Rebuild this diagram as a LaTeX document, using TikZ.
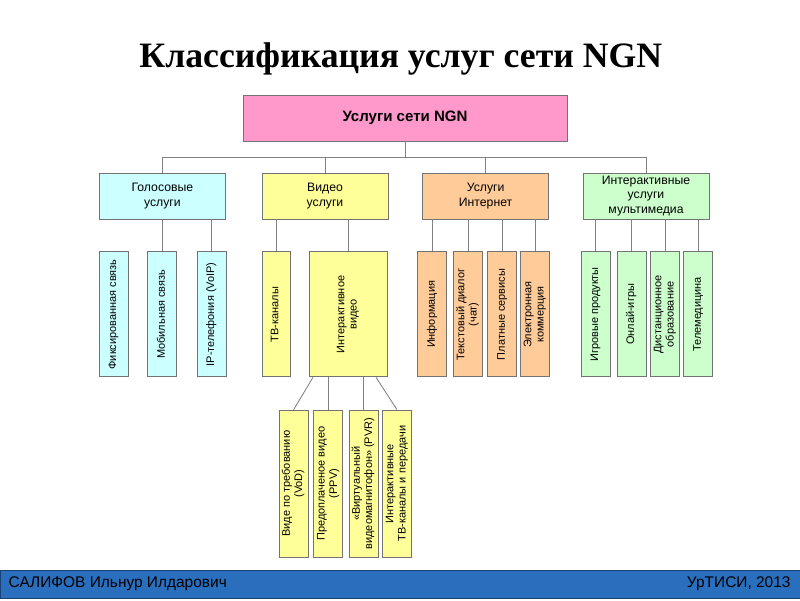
\documentclass[tikz,border=0pt]{standalone}
\usepackage{fontspec}
\setmainfont{Liberation Serif}
\setsansfont{Liberation Sans}
\usetikzlibrary{positioning,calc}

\definecolor{ngnpink}{HTML}{FF99CC}
\definecolor{voicecyan}{HTML}{CCFFFF}
\definecolor{vidyellow}{HTML}{FFFF99}
\definecolor{netorange}{HTML}{FFCC99}
\definecolor{mmgreen}{HTML}{CCFFCC}
\definecolor{footblue}{HTML}{2A6EBE}

\newcommand{\vtxt}[1]{\rotatebox{90}{\renewcommand{\arraystretch}{0.95}\begin{tabular}{@{}c@{}}#1\end{tabular}}}

\begin{document}
\begin{tikzpicture}[
  box/.style={draw=black!55, line width=0.6pt, align=center, inner sep=0pt,
              font=\sffamily\fontsize{7.8}{9.2}\selectfont},
  head/.style={box, minimum width=8.1cm, minimum height=1.15cm,
               font=\sffamily\bfseries\fontsize{10.7}{12}\selectfont},
  grp/.style={box, minimum width=3.15cm, minimum height=1.15cm,
              font=\sffamily\fontsize{8.7}{10.4}\selectfont},
  leaf/.style={box, minimum width=0.725cm, minimum height=3.125cm},
  sub/.style={box, minimum width=0.725cm, minimum height=3.675cm},
  link/.style={draw=black!50, line width=0.6pt}
]
  \useasboundingbox (0,0) rectangle (20,-15);

  % title
  \node[font=\bfseries\fontsize{25.4}{30}\selectfont] (title) at (10.02,-1.47)
      {Классификация услуг сети NGN};

  % top and groups
  \node[head, fill=ngnpink]  (root)   at (10.125,-2.95) {Услуги сети NGN};
  \node[grp, fill=voicecyan] (voice)  at (4.06,-4.9)    {Голосовые\\услуги};
  \node[grp, fill=vidyellow] (video)  at (8.125,-4.9)   {Видео\\услуги};
  \node[grp, fill=netorange] (inet)   at (12.14,-4.9)   {Услуги\\Интернет};
  \node[grp, fill=mmgreen]   (mmedia) at (16.15,-4.9)   {Интерактивные\\услуги\\мультимедиа};

  % voice services
  \node[leaf, fill=voicecyan] (fix) at (2.84,-7.86) {\vtxt{Фиксированная связь}};
  \node[leaf, fill=voicecyan] (mob) at (4.06,-7.86) {\vtxt{Мобильная связь}};
  \node[leaf, fill=voicecyan] (ip)  at (5.29,-7.86) {\vtxt{IP-телефония (VoIP)}};

  % video services
  \node[leaf, fill=vidyellow, minimum width=0.7cm] (tv)   at (6.9,-7.86) {\vtxt{ТВ-каналы}};
  \node[leaf, fill=vidyellow, minimum width=1.95cm] (ivid) at (8.7,-7.86) {\vtxt{Интерактивное\\видео}};

  % internet services
  \node[leaf, fill=netorange] (info) at (10.81,-7.86)  {\vtxt{Информация}};
  \node[leaf, fill=netorange] (chat) at (11.7,-7.86)   {\vtxt{Текстовый диалог\\(чат)}};
  \node[leaf, fill=netorange] (paid) at (12.56,-7.86)  {\vtxt{Платные сервисы}};
  \node[leaf, fill=netorange] (ecom) at (13.375,-7.86) {\vtxt{Электронная\\коммерция}};

  % multimedia services
  \node[leaf, fill=mmgreen] (game)   at (14.89,-7.86)  {\vtxt{Игровые продукты}};
  \node[leaf, fill=mmgreen] (online) at (15.79,-7.86)  {\vtxt{Онлай-игры}};
  \node[leaf, fill=mmgreen] (dist)   at (16.625,-7.86) {\vtxt{Дистанционное\\образование}};
  \node[leaf, fill=mmgreen] (tele)   at (17.46,-7.86)  {\vtxt{Телемедицина}};

  % interactive video
  \node[sub, fill=vidyellow] (vod) at (7.34,-12.09)  {\vtxt{Виде по требованию\\(VoD)}};
  \node[sub, fill=vidyellow] (ppv) at (8.21,-12.09)  {\vtxt{Предоплаченое видео\\(PPV)}};
  \node[sub, fill=vidyellow] (pvr) at (9.09,-12.09)  {\vtxt{«Виртуальный\\видеомагнитофон» (PVR)}};
  \node[sub, fill=vidyellow] (itv) at (9.925,-12.09) {\vtxt{Интерактивные\\ТВ-каналы и передачи}};

  % connectors
  \coordinate (bus) at (0,-3.925);
  \draw[link] (voice.north) |- (mmedia.north |- bus) -- (mmedia.north);
  \foreach \g in {root.south, video.north, inet.north}
    \draw[link] (\g) -- (\g |- bus);

  \foreach \c in {mob, ip}
    \draw[link] (\c.north) -- (\c.north |- voice.south);
  \foreach \c in {tv, ivid}
    \draw[link] (\c.north) -- (\c.north |- video.south);
  \foreach \c in {info, chat, paid, ecom}
    \draw[link] (\c.north) -- (\c.north |- inet.south);
  \foreach \c in {game, online, dist, tele}
    \draw[link] (\c.north) -- (\c.north |- mmedia.south);

  \draw[link] (vod.north) -- ([xshift=-0.875cm]ivid.south);
  \draw[link] (ppv.north) -- (ppv.north |- ivid.south);
  \draw[link] (pvr.north) -- (pvr.north |- ivid.south);
  \draw[link] (itv.north) -- ([xshift=0.7cm]ivid.south);

  % footer
  \node[fill=footblue, draw=footblue!60!black, minimum width=20cm, minimum height=0.7cm,
        inner sep=0pt] (foot) at (10,-14.6) {};
  \node[anchor=west, font=\sffamily\fontsize{11}{13}\selectfont] (author)
      at ([xshift=0.1cm]foot.west) {САЛИФОВ Ильнур Илдарович};
  \node[anchor=east, font=\sffamily\fontsize{11}{13}\selectfont] (org)
      at ([xshift=-0.12cm]foot.east) {УрТИСИ, 2013};
\end{tikzpicture}
\end{document}
